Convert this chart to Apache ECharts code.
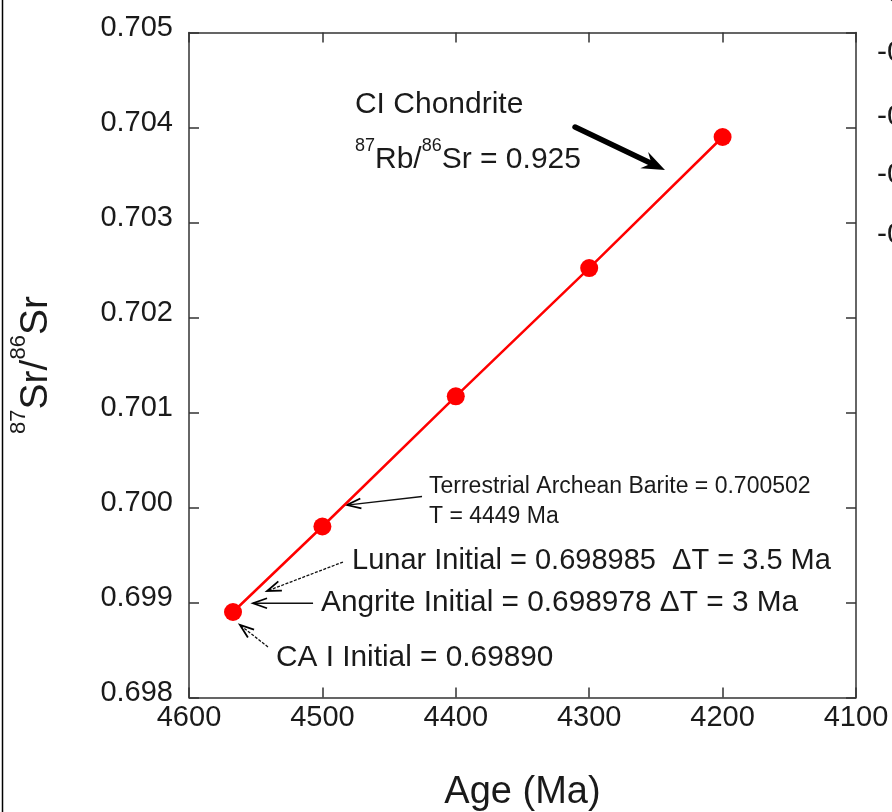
<!DOCTYPE html>
<html>
<head>
<meta charset="utf-8">
<script src="https://cdn.jsdelivr.net/npm/echarts@6/dist/echarts.min.js"></script>
<style>
  html, body { margin: 0; padding: 0; background: #fff; }
  #chart { width: 892px; height: 812px; }
</style>
</head>
<body>
<div id="chart"></div>
<script>
// Sr isotope growth curve of CI chondrite material
const ages = [4567, 4500, 4400, 4300, 4200];
const srRatios = [0.6989, 0.6998, 0.70117, 0.70252, 0.7039];
const ageTicks = [4600, 4500, 4400, 4300, 4200, 4100];
const ratioTicks = [0.698, 0.699, 0.700, 0.701, 0.702, 0.703, 0.704, 0.705];

const FONT = "'Liberation Sans', Arial, Helvetica, sans-serif";
const INK = '#1a1a1a';
const AXIS = '#333';

// annotation texts placed in data space (age, ratio)
const notes = [
  { at: [4475.6, 0.704237], size: 30, text: 'CI Chondrite' },
  { at: [4475.6, 0.703658], rich: true },
  { at: [4420.1, 0.700217], size: 23, text: 'Terrestrial Archean Barite = 0.700502' },
  { at: [4420.1, 0.699905], size: 23, text: 'T = 4449 Ma' },
  { at: [4477.8, 0.699437], size: 29, text: 'Lunar Initial = 0.698985  \u0394T = 3.5 Ma' },
  { at: [4501.0, 0.699000], size: 29.8, text: 'Angrite Initial = 0.698978 \u0394T = 3 Ma' },
  { at: [4534.8, 0.698416], size: 29.8, text: 'CA I Initial = 0.69890' }
];

// pointer arrows: from label towards the curve
const arrows = [
  { from: [4310.6, 0.704005], to: [4243.2, 0.703553], bold: true },
  { from: [4425.3, 0.700116], to: [4481.6, 0.700026] },
  { from: [4484.6, 0.699426], to: [4541.5, 0.699121], dash: true },
  { from: [4507.0, 0.698992], to: [4552.0, 0.698992] },
  { from: [4540.8, 0.698532], to: [4561.8, 0.698763], dash: true }
];

const ageMin = Math.min(...ageTicks), ageMax = Math.max(...ageTicks);
const ageStep = ageTicks[0] - ageTicks[1];
const rMin = ratioTicks[0], rMax = ratioTicks[ratioTicks.length - 1];
const rStep = +(ratioTicks[1] - ratioTicks[0]).toFixed(6);

const chart = echarts.init(document.getElementById('chart'), null, { renderer: 'canvas' });

const baseAxisLine = { show: true, lineStyle: { color: AXIS, width: 1.5 } };
const baseTick = { show: true, inside: true, length: 10, lineStyle: { color: AXIS, width: 1.5 } };

const option = {
  animation: false,
  backgroundColor: '#fff',
  grid: { left: 189, right: 36, top: 32.5, bottom: 114.5, outerBoundsMode: 'none', containLabel: false },
  xAxis: [
    {
      type: 'value', inverse: true, min: ageMin, max: ageMax, interval: ageStep,
      position: 'bottom',
      axisLine: baseAxisLine, axisTick: baseTick, splitLine: { show: false },
      axisLabel: { margin: 6, fontSize: 29, fontFamily: FONT, color: INK, formatter: v => String(v) },
      name: 'Age (Ma)', nameLocation: 'middle', nameGap: 95,
      nameTextStyle: { fontSize: 38, fontFamily: FONT, color: INK, verticalAlign: 'middle' }
    },
    {
      type: 'value', inverse: true, min: ageMin, max: ageMax, interval: ageStep,
      position: 'top',
      axisLine: baseAxisLine, axisTick: baseTick, splitLine: { show: false },
      axisLabel: { show: false }
    }
  ],
  yAxis: [
    {
      type: 'value', min: rMin, max: rMax, interval: rStep,
      position: 'left',
      axisLine: baseAxisLine, axisTick: baseTick, splitLine: { show: false },
      axisLabel: {
        margin: 16, fontSize: 29, fontFamily: FONT, color: INK,
        verticalAlign: 'bottom', lineHeight: 10,
        formatter: v => v.toFixed(3)
      },
      name: '{sup|87}{main|Sr/}{sup|86}{main|Sr}',
      nameLocation: 'middle', nameRotate: 90, nameGap: 153,
      nameTextStyle: {
        fontFamily: FONT, color: INK, align: 'center', verticalAlign: 'middle',
        rich: {
          main: { fontSize: 39, fontFamily: FONT, color: INK, lineHeight: 56 },
          sup: { fontSize: 22, fontFamily: FONT, color: INK, lineHeight: 22, verticalAlign: 'top' }
        }
      }
    },
    {
      type: 'value', min: rMin, max: rMax, interval: rStep,
      position: 'right',
      axisLine: baseAxisLine, axisTick: baseTick, splitLine: { show: false },
      axisLabel: { show: false }
    }
  ],
  series: [
    {
      type: 'line',
      xAxisIndex: 0, yAxisIndex: 0,
      data: ages.map((a, i) => [a, srRatios[i]]),
      symbol: 'circle', symbolSize: 18,
      itemStyle: { color: '#ff0000' },
      lineStyle: { color: '#ff0000', width: 2.5 },
      z: 3
    }
  ]
};

chart.setOption(option);

const px = p => chart.convertToPixel({ xAxisIndex: 0, yAxisIndex: 0 }, p);
const elements = [];

// frame edge on the left of the canvas
elements.push({
  type: 'line', silent: true,
  shape: { x1: 2.5, y1: 0, x2: 2.5, y2: 812 },
  style: { stroke: '#000', lineWidth: 1.5 }
});

// tick-label fragments of the neighbouring panel on the right edge
[-6, 53, 117, 175, 235].forEach(y => {
  elements.push({
    type: 'text', x: 877, y: y, silent: true,
    style: { text: '-0', font: '30px ' + FONT, fill: INK, align: 'left', verticalAlign: 'middle',
             textAlign: 'left', textVerticalAlign: 'middle' }
  });
});

arrows.forEach(a => {
  const s = px(a.from), t = px(a.to);
  const dx = t[0] - s[0], dy = t[1] - s[1];
  const len = Math.hypot(dx, dy);
  const ux = dx / len, uy = dy / len, nx = -uy, ny = ux;
  if (a.bold) {
    const L = 23, W = 9;
    elements.push({
      type: 'line', silent: true,
      shape: { x1: s[0], y1: s[1], x2: t[0] - ux * L * 0.6, y2: t[1] - uy * L * 0.6 },
      style: { stroke: '#000', lineWidth: 5.5, lineCap: 'round' }
    });
    elements.push({
      type: 'polygon', silent: true,
      shape: { points: [
        [t[0], t[1]],
        [t[0] - ux * L + nx * W, t[1] - uy * L + ny * W],
        [t[0] - ux * L * 0.65, t[1] - uy * L * 0.65],
        [t[0] - ux * L - nx * W, t[1] - uy * L - ny * W]
      ] },
      style: { fill: '#000' }
    });
  } else {
    const L = 14, W = 5;
    elements.push({
      type: 'line', silent: true,
      shape: { x1: s[0], y1: s[1], x2: t[0], y2: t[1] },
      style: { stroke: '#111', lineWidth: 1.3, lineDash: a.dash ? [3, 1.5] : null }
    });
    elements.push({
      type: 'polyline', silent: true,
      shape: { points: [
        [t[0] - ux * L + nx * W, t[1] - uy * L + ny * W],
        [t[0], t[1]],
        [t[0] - ux * L - nx * W, t[1] - uy * L - ny * W]
      ] },
      style: { stroke: '#000', lineWidth: 1.8, fill: null }
    });
  }
});

notes.forEach(n => {
  const p = px(n.at);
  if (n.rich) {
    elements.push({
      type: 'text', x: p[0], y: p[1], silent: true,
      style: {
        text: '{sup|87}{main|Rb/}{sup|86}{main|Sr = 0.925}',
        align: 'left', verticalAlign: 'middle', textAlign: 'left', textVerticalAlign: 'middle',
        rich: {
          main: { fontSize: 30, fontFamily: FONT, fill: INK, lineHeight: 46 },
          sup: { fontSize: 18, fontFamily: FONT, fill: INK, lineHeight: 18, verticalAlign: 'top' }
        }
      }
    });
  } else {
    elements.push({
      type: 'text', x: p[0], y: p[1], silent: true,
      style: {
        text: n.text, font: n.size + 'px ' + FONT, fill: INK,
        align: 'left', verticalAlign: 'middle', textAlign: 'left', textVerticalAlign: 'middle'
      }
    });
  }
});

chart.setOption({ graphic: { elements: elements } });
</script>
</body>
</html>
